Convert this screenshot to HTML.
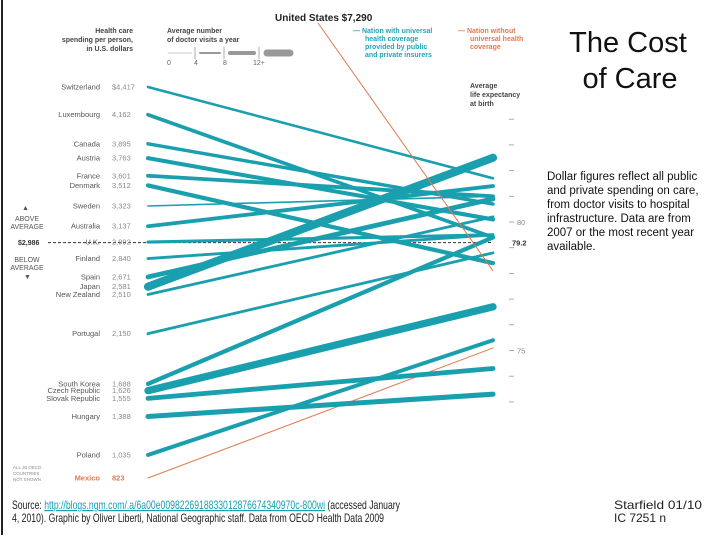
<!DOCTYPE html>
<html><head><meta charset="utf-8"><style>
html,body{margin:0;padding:0;background:#fff;width:720px;height:540px;overflow:hidden}
svg{display:block;font-family:"Liberation Sans",sans-serif}
</style></head><body>
<svg id="chart" width="720" height="540" viewBox="0 0 720 540" xmlns="http://www.w3.org/2000/svg">
<rect x="0" y="0" width="720" height="540" fill="#fff"/>
<line x1="2" y1="0" x2="2" y2="535" stroke="#222" stroke-width="2"/>
<g id="header" font-weight="bold" font-size="7" fill="#444">
<text x="133" y="33" text-anchor="end">Health care</text>
<text x="133" y="42" text-anchor="end">spending per person,</text>
<text x="133" y="51" text-anchor="end">in U.S. dollars</text>
<text x="167" y="33">Average number</text>
<text x="167" y="42">of doctor visits a year</text>
<text x="275" y="21" font-size="10" fill="#222">United States $7,290</text>
<g fill="#1fa6b5">
<text x="353" y="33">— Nation with universal</text><text x="365" y="41">health coverage</text><text x="365" y="49">provided by public</text><text x="365" y="57">and private insurers</text></g>
<g fill="#e07a50">
<text x="458" y="33">— Nation without</text><text x="470" y="41">universal health</text><text x="470" y="49">coverage</text></g>
<g><text x="470" y="88">Average</text><text x="470" y="97">life expectancy</text><text x="470" y="106">at birth</text></g>
</g>
<g stroke="#999" stroke-linecap="round">
<line x1="168" y1="53" x2="192" y2="53" stroke-width="0.8" stroke="#bbb"/>
<line x1="200" y1="53" x2="220" y2="53" stroke-width="2"/>
<line x1="230" y1="53" x2="254" y2="53" stroke-width="4"/>
<line x1="267" y1="53" x2="290" y2="53" stroke-width="7"/>
<line x1="195" y1="47" x2="195" y2="59" stroke-width="0.8"/><line x1="224" y1="47" x2="224" y2="59" stroke-width="0.8"/><line x1="259" y1="47" x2="259" y2="59" stroke-width="0.8"/>
</g>
<g font-size="7" fill="#666">
<text x="167" y="65">0</text><text x="194" y="65">4</text><text x="223" y="65">8</text><text x="253" y="65">12+</text></g>
<g font-size="7" fill="#555">
<text x="22" y="210">▲</text>
<text x="27" y="221" text-anchor="middle">ABOVE</text><text x="27" y="229" text-anchor="middle">AVERAGE</text>
<text x="18" y="245" font-weight="bold" fill="#333">$2,986</text>
<text x="27" y="262" text-anchor="middle">BELOW</text><text x="27" y="270" text-anchor="middle">AVERAGE</text>
<text x="24" y="279">▼</text>
<text x="13" y="469" font-size="4.5" fill="#888">ALL 30 OECD</text><text x="13" y="475" font-size="4.5" fill="#888">COUNTRIES</text><text x="13" y="481" font-size="4.5" fill="#888">NOT SHOWN</text>
</g>
<g id="lines"></g>
<g id="labels"></g>
<g id="raxis"></g>
<g fill="#111">
<text x="628" y="52" font-size="29" text-anchor="middle">The Cost</text>
<text x="630" y="88" font-size="29" text-anchor="middle">of Care</text>
</g>
<g font-size="11.5" fill="#111">
<text x="547" y="180">Dollar figures reflect all public</text>
<text x="547" y="194">and private spending on care,</text>
<text x="547" y="208">from doctor visits to hospital</text>
<text x="547" y="222">infrastructure. Data are from</text>
<text x="547" y="236">2007 or the most recent year</text>
<text x="547" y="250">available.</text>
</g>
<g font-size="12" fill="#222">
<text x="12" y="509" textLength="388" lengthAdjust="spacingAndGlyphs">Source: <tspan fill="#1a9fae" text-decoration="underline">http://blogs.ngm.com/.a/6a00e0098226918833012876674340970c-800wi</tspan> (accessed January</text>
<text x="12" y="522" textLength="372" lengthAdjust="spacingAndGlyphs">4, 2010). Graphic by Oliver Liberti, National Geographic staff. Data from OECD Health Data 2009</text>
<text x="614" y="509" textLength="88" lengthAdjust="spacingAndGlyphs">Starfield 01/10</text>
<text x="614" y="522">IC 7251 n</text>
</g>
</svg>
<script>
const countries = ["Switzerland","Luxembourg","Canada","Austria","France","Denmark","Sweden","Australia","U.K.","Finland","Spain","Japan","New Zealand","Portugal","South Korea","Czech Republic","Slovak Republic","Hungary","Poland","Mexico"];
const spending = [4417,4162,3895,3763,3601,3512,3323,3137,2992,2840,2671,2581,2510,2150,1688,1626,1555,1388,1035,823];
const spendingLabels = ["$4,417","4,162","3,895","3,763","3,601","3,512","3,323","3,137","2,992","2,840","2,671","2,581","2,510","2,150","1,688","1,626","1,555","1,388","1,035","823"];
const lifeExp = [81.7,79.4,80.7,80.1,81.0,78.4,81.0,81.4,79.5,79.5,80.9,82.5,80.2,78.8,79.4,76.7,74.3,73.3,75.4,75.1];
const visits = [4,6,5.5,6.7,6.3,7,2.2,6.3,5,4.5,8,14,4.4,4.5,7,12.6,8,8.5,6.5,2.5];
const universal = [1,1,1,1,1,1,1,1,1,1,1,1,1,1,1,1,1,1,1,0];
const usSpending = 7290, usLife = 78.1, avgSpending = 2986, avgLife = 79.2;
const leTicks = [84,83,82,81,80,79,78,77,76,75,74,73];
const leLabels = {80:"80",75:"75"};
const NS="http://www.w3.org/2000/svg";
const xL=148, xR=493;
function ySpend(v){return 478-(v-823)*0.1088;}
function yLife(v){return 222-(v-80)*25.7;}
function wVis(v){return 0.4+v*0.55;}
const teal="#1a9fae", orange="#e07a50";
const gl=document.getElementById('lines'), gt=document.getElementById('labels'), ga=document.getElementById('raxis');
function mk(tag,attrs,parent){const e=document.createElementNS(NS,tag);for(const k in attrs)e.setAttribute(k,attrs[k]);parent.appendChild(e);return e;}
// average dashed line
const avg=mk('line',{x1:48,y1:ySpend(avgSpending),x2:xR,y2:yLife(avgLife),stroke:"#333","stroke-width":1,"stroke-dasharray":"3,2"},gl);


const avgT=mk('text',{x:512,y:yLife(avgLife)+3,"font-size":7.5,fill:"#333","font-weight":"bold"},ga);avgT.textContent="79.2";


const order=countries.map((c,i)=>i).sort((a,b)=>visits[a]-visits[b]);
order.forEach(i=>{
  const l=mk('line',{x1:xL,y1:ySpend(spending[i]),x2:xR,y2:yLife(lifeExp[i]),stroke:universal[i]?teal:orange,"stroke-width":universal[i]?wVis(visits[i]):1,"stroke-linecap":"round"},gl);
  
  
});
const us=mk('line',{x1:318,y1:23,x2:xR,y2:yLife(usLife),stroke:orange,"stroke-width":1},gl);


countries.forEach((c,i)=>{
  const y=ySpend(spending[i])+2.5, col=universal[i]?"#555":orange;
  const t=mk('text',{x:100,y:y,"text-anchor":"end","font-size":7.5,fill:col,"font-weight":universal[i]?"normal":"bold"},gt);t.textContent=c;
  
  
  const v=mk('text',{x:112,y:y,"font-size":7.5,fill:universal[i]?"#888":orange,"font-weight":universal[i]?"normal":"bold"},gt);v.textContent=spendingLabels[i];
  
  
});
leTicks.forEach(t=>{
  const y=yLife(t);
  const tk=mk('line',{x1:509,y1:y,x2:514,y2:y,stroke:"#999","stroke-width":0.8},ga);
  
  
  if(leLabels[t]){const tx=mk('text',{x:517,y:y+3,"font-size":7.5,fill:"#888"},ga);tx.textContent=leLabels[t];
  
  }
});
</script>
</body></html>
